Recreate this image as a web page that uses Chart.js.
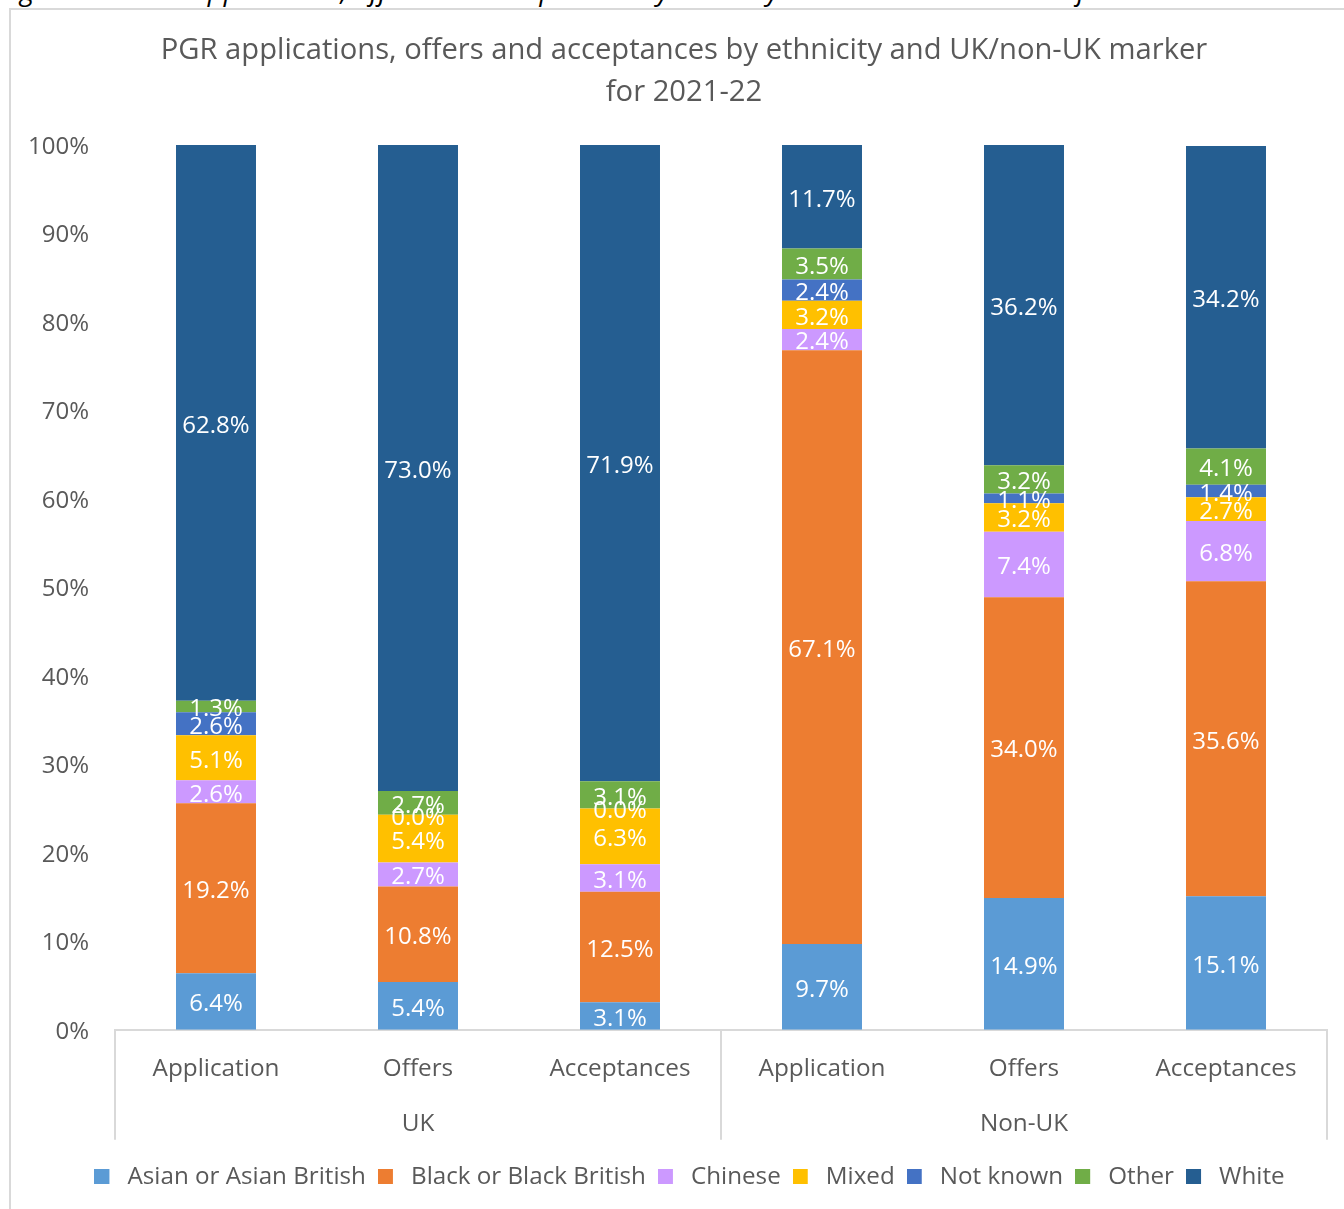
<!DOCTYPE html>
<html>
<head>
<meta charset="utf-8">
<script src="https://cdn.jsdelivr.net/npm/chart.js@4.4.1/dist/chart.umd.min.js"></script>
<style>
  html, body { margin: 0; padding: 0; background: #fff; overflow: hidden; }
  body { width: 1344px; height: 1209px; position: relative; }
  .caption {
    position: absolute; left: 0; top: -24px; white-space: nowrap;
    font: italic 27.5px "Open Sans", sans-serif; line-height: 27px; color: #000;
  }
  .frame {
    position: absolute; left: 9px; top: 8px; width: 1400px; height: 1300px;
    border: 2px solid #d9d9d9;
  }
  #chart { position: absolute; left: 0; top: 0; }
</style>
</head>
<body>
<div class="caption">Figure 32 - PGR applications, offers and acceptances by ethnicity and UK/non-UK marker for 2021-22</div>
<div class="frame"></div>
<canvas id="chart" width="1344" height="1209"></canvas>
<script>
/*
  PGR applications / offers / acceptances by ethnicity,
  100% stacked columns, grouped UK vs Non-UK.
*/

const titleLines = ["PGR applications, offers and acceptances by ethnicity and UK/non-UK marker", "for 2021-22"];

const stages = ["Application", "Offers", "Acceptances", "Application", "Offers", "Acceptances"];
const groups = ["UK", "Non-UK"];

// values in %, one per bar (UK x3, Non-UK x3)
const asian    = [6.4, 5.4, 3.1, 9.7, 14.9, 15.1];
const black    = [19.2, 10.8, 12.5, 67.1, 34.0, 35.6];
const chinese  = [2.6, 2.7, 3.1, 2.4, 7.4, 6.8];
const mixed    = [5.1, 5.4, 6.3, 3.2, 3.2, 2.7];
const notKnown = [2.6, 0.0, 0.0, 2.4, 1.1, 1.4];
const other    = [1.3, 2.7, 3.1, 3.5, 3.2, 4.1];
const white    = [62.8, 73.0, 71.9, 11.7, 36.2, 34.2];

const seriesNames = ["Asian or Asian British", "Black or Black British", "Chinese", "Mixed", "Not known", "Other", "White"];
const seriesValues = [asian, black, chinese, mixed, notKnown, other, white];
const seriesColors = ["#5b9bd5", "#ed7d31", "#cc99ff", "#ffc000", "#4472c4", "#70ad47", "#255e91"];

const yTicks = { min: 0, max: 100, step: 10 };

const TEXT = "#595959";
const FONT = '"Open Sans"';
Chart.defaults.font.family = FONT;
Chart.defaults.color = TEXT;

// two-line title, centred on the frame rather than the canvas
const frameTitle = {
  id: "frameTitle",
  afterDraw(chart) {
    const ctx = chart.ctx;
    ctx.save();
    ctx.font = "29.2px " + FONT;
    ctx.fillStyle = TEXT;
    ctx.textAlign = "center";
    ctx.textBaseline = "middle";
    titleLines.forEach((line, i) => ctx.fillText(line, 684, 51 + i * 42));
    ctx.restore();
  }
};

// the legend is centred on the frame too, a bit right of the canvas centre
const legendShift = {
  id: "legendShift",
  afterLayout(chart) {
    chart.legend.left += 16;
    chart.legend.right += 16;
  }
};

// white value labels centred in every segment (0.0% included)
const segmentLabels = {
  id: "segmentLabels",
  afterDatasetsDraw(chart) {
    const ctx = chart.ctx;
    ctx.save();
    ctx.font = "24px " + FONT;
    ctx.fillStyle = "#ffffff";
    ctx.textAlign = "center";
    ctx.textBaseline = "middle";
    chart.data.datasets.forEach((ds, i) => {
      chart.getDatasetMeta(i).data.forEach((bar, j) => {
        const y = (bar.y + bar.base) / 2;
        ctx.fillText(ds.data[j].toFixed(1) + "%", bar.x, y + 3);
      });
    });
    ctx.restore();
  }
};

// vertical separators of the two-level category axis
const groupSeparators = {
  id: "groupSeparators",
  afterDraw(chart) {
    const xs = chart.scales.x;
    const gs = chart.scales.x2;
    const ctx = chart.ctx;
    const mid = (xs.getPixelForValue(2) + xs.getPixelForValue(3)) / 2;
    const bottom = gs.top + 56;
    ctx.save();
    ctx.strokeStyle = "#d9d9d9";
    ctx.lineWidth = 2;
    [xs.left, mid, xs.right].forEach(px => {
      ctx.beginPath();
      ctx.moveTo(px, xs.top);
      ctx.lineTo(px, bottom);
      ctx.stroke();
    });
    ctx.restore();
  }
};

// legend marker: 15px square with some blank room on its right
function legendSwatch(color) {
  const c = document.createElement("canvas");
  c.width = 21;
  c.height = 15;
  const g = c.getContext("2d");
  g.fillStyle = color;
  g.fillRect(0, 0, 15, 15);
  return c;
}

const datasets = seriesNames.map((name, i) => ({
  label: name,
  data: seriesValues[i],
  backgroundColor: seriesColors[i],
  borderWidth: 0,
  barPercentage: 0.396,
  categoryPercentage: 1
}));

new Chart(document.getElementById("chart"), {
  type: "bar",
  data: { labels: stages, datasets },
  plugins: [segmentLabels, groupSeparators, frameTitle, legendShift],
  options: {
    responsive: false,
    animation: false,
    layout: { padding: { left: 20, right: 17, top: 145, bottom: 10 } },
    plugins: {
      tooltip: { enabled: false },
      title: { display: false },
      legend: {
        position: "bottom",
        labels: {
          usePointStyle: true,
          pointStyleWidth: 21,
          boxHeight: 15,
          padding: 12,
          color: TEXT,
          font: { size: 24.2 },
          generateLabels: chart => {
            const items = Chart.defaults.plugins.legend.labels.generateLabels(chart);
            items.forEach(it => { it.pointStyle = legendSwatch(seriesColors[it.datasetIndex]); });
            return items;
          }
        }
      }
    },
    scales: {
      x: {
        stacked: true,
        weight: 0,
        grid: { display: false, drawTicks: false },
        border: { display: true, color: "#d9d9d9", width: 2 },
        ticks: { padding: 25, color: TEXT, font: { size: 24.3 }, maxRotation: 0, autoSkip: false },
        afterFit: s => { s.height = 54; }
      },
      x2: {
        type: "category",
        labels: groups,
        position: "bottom",
        offset: true,
        weight: 1,
        grid: { display: false, drawTicks: false },
        border: { display: false },
        ticks: { padding: 26, color: TEXT, font: { size: 24.3 }, maxRotation: 0 },
        afterFit: s => { s.height = 69; }
      },
      y: {
        stacked: true,
        min: yTicks.min,
        max: yTicks.max,
        grid: { display: false, drawTicks: false },
        border: { display: false },
        ticks: {
          stepSize: yTicks.step,
          padding: 26,
          labelOffset: 2,
          color: TEXT,
          font: { size: 24 },
          callback: v => v + "%"
        },
        afterFit: s => { s.width = 95; }
      }
    }
  }
});
</script>
</body>
</html>
